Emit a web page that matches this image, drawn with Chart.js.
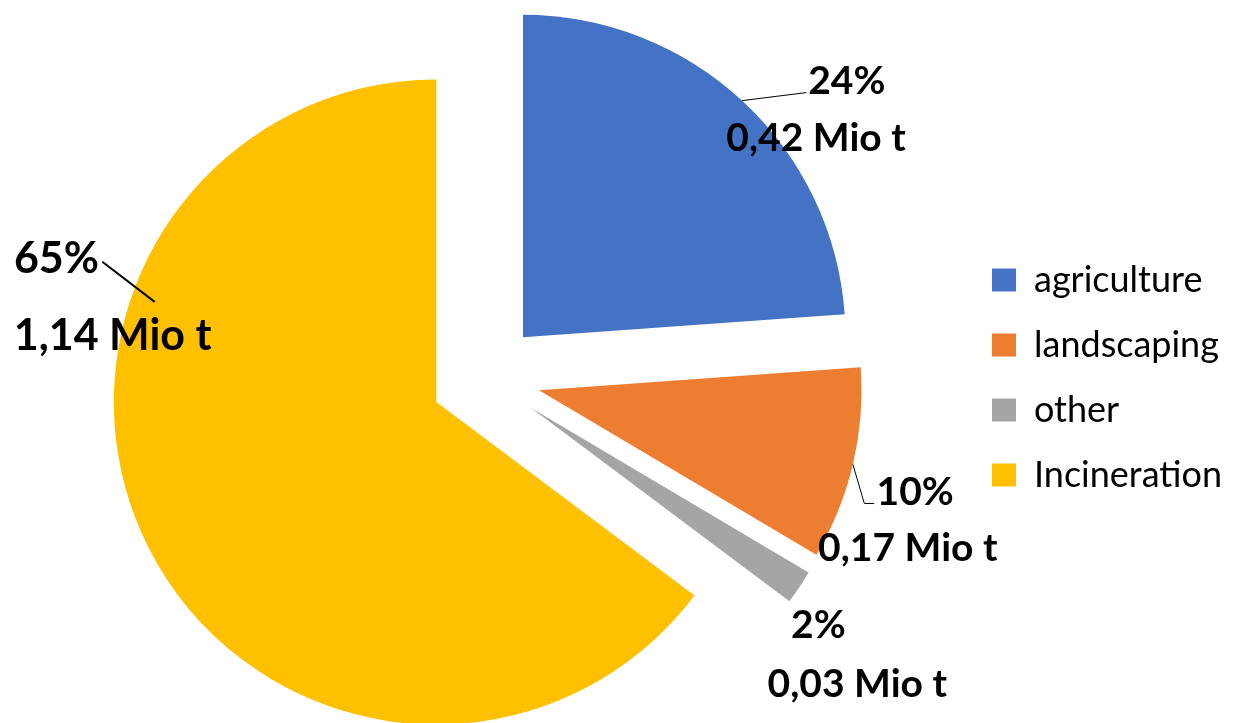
<!DOCTYPE html>
<html>
<head>
<meta charset="utf-8">
<script src="https://cdn.jsdelivr.net/npm/chart.js@4.4.1/dist/chart.umd.min.js"></script>
<style>
  html, body { margin: 0; padding: 0; background: #fff; }
  #wrap { width: 1237px; height: 723px; }
</style>
</head>
<body>
<div id="wrap"><canvas id="myChart"></canvas></div>
<script>
// data
const categories = ['agriculture', 'landscaping', 'other', 'Incineration'];
const amounts = [0.42, 0.17, 0.03, 1.14]; // Mio t
const sliceColors = ['#4472C4', '#ED7D31', '#A5A5A5', '#FFC000'];

// how far every slice is pulled out of the pie (px)
const explodeBy = 55;

// label placement relative to each pulled-out slice:
// [angle clockwise from 12 o'clock in degrees, distance as share of the radius]
const labelLayout = [
    { size: 39, pct: [51.5, 1.283], val: [55.7, 1.100], leader: [[42.8, 1.0], [49.2, 1.161]], lw: 1 },
    { size: 39, pct: [105.0, 1.2075], val: [113.1, 1.243], leader: [[103.3, 1.0], [109.2, 1.068], [108.7, 1.097]], lw: 1 },
    { size: 39, pct: [127.0, 1.115], val: [130.1, 1.3216], leader: [], lw: 1 },
    { size: 43, pct: [290.8, 1.26], val: [281.8, 1.0254], leader: [[289.6, 0.927], [292.8, 1.1235]], lw: 2 }
];

const total = amounts.reduce((a, b) => a + b, 0);

function polar(arc, spec) {
    const a = (spec[0] - 90) * Math.PI / 180;
    const r = spec[1] * arc.outerRadius;
    return { x: arc.x + Math.cos(a) * r, y: arc.y + Math.sin(a) * r };
}

const explodePlugin = {
    id: 'explode',
    afterDatasetUpdate(chart, args) {
        args.meta.data.forEach(arc => {
            const mid = (arc.startAngle + arc.endAngle) / 2;
            arc.x += Math.cos(mid) * explodeBy;
            arc.y += Math.sin(mid) * explodeBy;
        });
    }
};

const labelPlugin = {
    id: 'sliceLabels',
    afterDatasetsDraw(chart) {
        const ctx = chart.ctx;
        const arcs = chart.getDatasetMeta(0).data;
        ctx.save();
        ctx.fillStyle = '#000';
        ctx.strokeStyle = '#000';
        arcs.forEach((arc, i) => {
            const lay = labelLayout[i];
            if (lay.leader.length) {
                ctx.lineWidth = lay.lw;
                ctx.beginPath();
                lay.leader.forEach((spec, k) => {
                    const p = polar(arc, spec);
                    if (k === 0) ctx.moveTo(p.x, p.y); else ctx.lineTo(p.x, p.y);
                });
                ctx.stroke();
            }
            ctx.font = 'bold ' + lay.size + 'px Lato';
            ctx.textAlign = 'center';
            ctx.textBaseline = 'alphabetic';
            const lift = 0.358 * lay.size;
            const pctText = Math.round(amounts[i] / total * 100) + '%';
            const valText = amounts[i].toFixed(2).replace('.', ',') + ' Mio t';
            const p1 = polar(arc, lay.pct);
            const p2 = polar(arc, lay.val);
            ctx.fillText(pctText, p1.x, p1.y + lift);
            ctx.fillText(valText, p2.x, p2.y + lift);
        });
        ctx.restore();
    }
};

let ctx = document.getElementById('myChart').getContext('2d');
let myChart = new Chart(ctx, {
    type: 'pie',
    data: {
        labels: categories,
        datasets: [{
            data: amounts,
            backgroundColor: sliceColors,
            borderWidth: 0
        }]
    },
    options: {
        responsive: true,
        maintainAspectRatio: false,
        animation: false,
        events: [],
        radius: 322.5,
        layout: { padding: { top: 32, left: 8, right: 14, bottom: 0 } },
        plugins: {
            tooltip: { enabled: false },
            legend: {
                position: 'right',
                maxWidth: 260,
                labels: {
                    color: '#000',
                    font: { family: 'Lato', size: 36 },
                    boxWidth: 24,
                    boxHeight: 23,
                    padding: 29
                }
            }
        }
    },
    plugins: [explodePlugin, labelPlugin]
});
</script>
</body>
</html>
